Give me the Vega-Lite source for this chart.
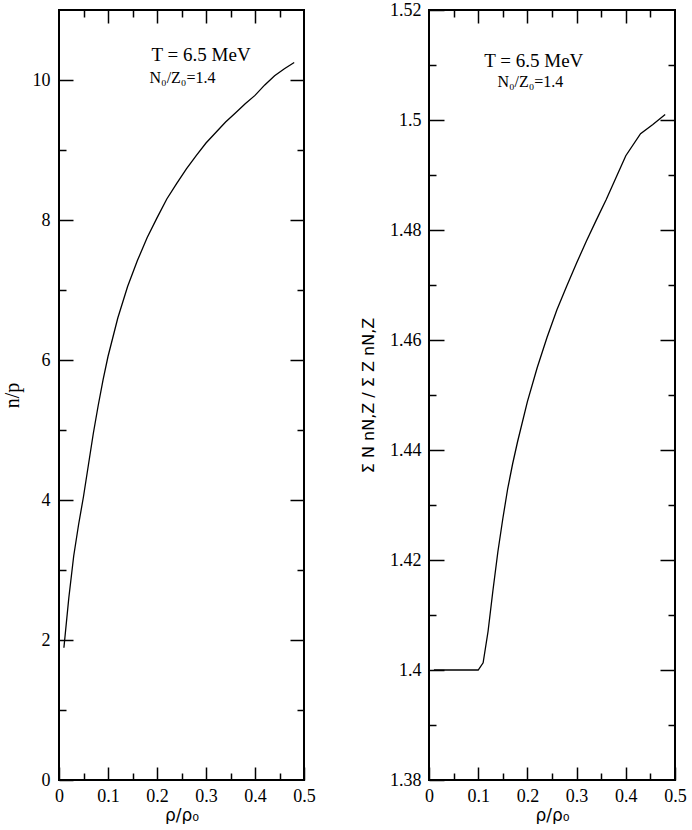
{
  "$schema": "https://vega.github.io/schema/vega-lite/v6.json",
  "padding": {"left": 1, "top": 0, "right": 0, "bottom": 0},
  "background": "white",
  "config": {
    "view": {"stroke": "black", "strokeWidth": 2},
    "axis": {
      "domain": false, "grid": false,
      "tickColor": "black", "tickWidth": 1.5,
      "labelFont": "Liberation Serif", "labelFontSize": 18, "labelColor": "black",
      "labelOverlap": false, "labelFlush": false,
      "titleColor": "black", "titleFontWeight": "normal"
    }
  },
  "datasets": {
    "left": [
      {"rho": 0.01, "v": 1.89}, {"rho": 0.02, "v": 2.6}, {"rho": 0.03, "v": 3.2},
      {"rho": 0.04, "v": 3.65}, {"rho": 0.05, "v": 4.05}, {"rho": 0.06, "v": 4.5},
      {"rho": 0.07, "v": 4.95}, {"rho": 0.08, "v": 5.35}, {"rho": 0.09, "v": 5.72},
      {"rho": 0.1, "v": 6.05}, {"rho": 0.12, "v": 6.6}, {"rho": 0.14, "v": 7.05},
      {"rho": 0.16, "v": 7.42}, {"rho": 0.18, "v": 7.75}, {"rho": 0.2, "v": 8.03},
      {"rho": 0.22, "v": 8.3}, {"rho": 0.24, "v": 8.52}, {"rho": 0.26, "v": 8.73},
      {"rho": 0.28, "v": 8.92}, {"rho": 0.3, "v": 9.1}, {"rho": 0.32, "v": 9.25},
      {"rho": 0.34, "v": 9.4}, {"rho": 0.36, "v": 9.53}, {"rho": 0.38, "v": 9.66},
      {"rho": 0.4, "v": 9.78}, {"rho": 0.42, "v": 9.93}, {"rho": 0.44, "v": 10.06},
      {"rho": 0.46, "v": 10.16}, {"rho": 0.48, "v": 10.25}
    ],
    "right": [
      {"rho": 0.01, "v": 1.4}, {"rho": 0.05, "v": 1.4}, {"rho": 0.1, "v": 1.4},
      {"rho": 0.11, "v": 1.4013}, {"rho": 0.12, "v": 1.407}, {"rho": 0.13, "v": 1.4145},
      {"rho": 0.14, "v": 1.4215}, {"rho": 0.15, "v": 1.4275}, {"rho": 0.16, "v": 1.433},
      {"rho": 0.17, "v": 1.4375}, {"rho": 0.18, "v": 1.4415}, {"rho": 0.2, "v": 1.4488},
      {"rho": 0.22, "v": 1.455}, {"rho": 0.24, "v": 1.4605}, {"rho": 0.26, "v": 1.4655},
      {"rho": 0.28, "v": 1.4698}, {"rho": 0.3, "v": 1.474}, {"rho": 0.32, "v": 1.478},
      {"rho": 0.34, "v": 1.4818}, {"rho": 0.36, "v": 1.4855}, {"rho": 0.38, "v": 1.4895},
      {"rho": 0.4, "v": 1.4935}, {"rho": 0.43, "v": 1.4975}, {"rho": 0.455, "v": 1.4992},
      {"rho": 0.48, "v": 1.501}
    ],
    "leftText": [
      {"label": "T = 6.5 MeV", "rho": 0.29, "v": 10.27, "kind": "big"},
      {"label": "N₀/Z₀=1.4", "rho": 0.252, "v": 9.96, "kind": "small"}
    ],
    "rightText": [
      {"label": "T = 6.5 MeV", "rho": 0.213, "v": 1.5096, "kind": "big"},
      {"label": "N₀/Z₀=1.4", "rho": 0.206, "v": 1.506, "kind": "small"}
    ]
  },
  "hconcat": [
    {
      "width": 245, "height": 770,
      "resolve": {"axis": {"x": "independent", "y": "independent"}},
      "layer": [
        {
          "data": {"name": "left"},
          "mark": {"type": "line", "color": "black", "strokeWidth": 1.3},
          "encoding": {
            "x": {"field": "rho", "type": "quantitative", "scale": {"domain": [0, 0.5], "nice": false},
              "axis": {"orient": "bottom", "values": [0, 0.1, 0.2, 0.3, 0.4, 0.5], "format": "~r", "tickSize": -13, "labelPadding": 20,
                "title": "ρ/ρ₀", "titleFont": "DejaVu Sans", "titleFontSize": 17, "titlePadding": 2}},
            "y": {"field": "v", "type": "quantitative", "scale": {"domain": [0, 11], "nice": false},
              "axis": {"orient": "left", "values": [0, 2, 4, 6, 8, 10], "format": "~r", "tickSize": -14, "labelPadding": 23,
                "title": "n/p", "titleFont": "Liberation Serif", "titleFontSize": 20, "titlePadding": 10}}
          }
        },
        {
          "data": {"name": "left"},
          "mark": {"type": "line", "strokeOpacity": 0},
          "encoding": {
            "x": {"field": "rho", "type": "quantitative", "scale": {"domain": [0, 0.5], "nice": false},
              "axis": {"orient": "bottom", "values": [0.05, 0.15, 0.25, 0.35, 0.45], "labels": false, "tickSize": -7, "title": null}},
            "y": {"field": "v", "type": "quantitative", "scale": {"domain": [0, 11], "nice": false},
              "axis": {"orient": "left", "values": [1, 3, 5, 7, 9], "labels": false, "tickSize": -7, "title": null}}
          }
        },
        {
          "data": {"name": "left"},
          "mark": {"type": "line", "strokeOpacity": 0},
          "encoding": {
            "x": {"field": "rho", "type": "quantitative", "scale": {"domain": [0, 0.5], "nice": false},
              "axis": {"orient": "top", "values": [0.1, 0.2, 0.3, 0.4], "labels": false, "tickSize": -13, "title": null}},
            "y": {"field": "v", "type": "quantitative", "scale": {"domain": [0, 11], "nice": false},
              "axis": {"orient": "right", "values": [2, 4, 6, 8, 10], "labels": false, "tickSize": -14, "title": null}}
          }
        },
        {
          "data": {"name": "left"},
          "mark": {"type": "line", "strokeOpacity": 0},
          "encoding": {
            "x": {"field": "rho", "type": "quantitative", "scale": {"domain": [0, 0.5], "nice": false},
              "axis": {"orient": "top", "values": [0.05, 0.15, 0.25, 0.35, 0.45], "labels": false, "tickSize": -7, "title": null}},
            "y": {"field": "v", "type": "quantitative", "scale": {"domain": [0, 11], "nice": false},
              "axis": {"orient": "right", "values": [1, 3, 5, 7, 9], "labels": false, "tickSize": -7, "title": null}}
          }
        },
        {
          "data": {"name": "leftText"},
          "transform": [{"filter": "datum.kind == 'big'"}],
          "mark": {"type": "text", "font": "Liberation Serif", "fontSize": 19, "align": "center", "baseline": "alphabetic", "color": "black"},
          "encoding": {
            "x": {"field": "rho", "type": "quantitative", "axis": null},
            "y": {"field": "v", "type": "quantitative", "axis": null},
            "text": {"field": "label"}
          }
        },
        {
          "data": {"name": "leftText"},
          "transform": [{"filter": "datum.kind == 'small'"}],
          "mark": {"type": "text", "font": "Liberation Serif", "fontSize": 16, "align": "center", "baseline": "alphabetic", "color": "black"},
          "encoding": {
            "x": {"field": "rho", "type": "quantitative", "axis": null},
            "y": {"field": "v", "type": "quantitative", "axis": null},
            "text": {"field": "label"}
          }
        }
      ]
    },
    {
      "width": 246, "height": 770,
      "resolve": {"axis": {"x": "independent", "y": "independent"}},
      "layer": [
        {
          "data": {"name": "right"},
          "mark": {"type": "line", "color": "black", "strokeWidth": 1.3},
          "encoding": {
            "x": {"field": "rho", "type": "quantitative", "scale": {"domain": [0, 0.5], "nice": false},
              "axis": {"orient": "bottom", "values": [0, 0.1, 0.2, 0.3, 0.4, 0.5], "format": "~r", "tickSize": -13, "labelPadding": 20,
                "title": "ρ/ρ₀", "titleFont": "DejaVu Sans", "titleFontSize": 17, "titlePadding": 2}},
            "y": {"field": "v", "type": "quantitative", "scale": {"domain": [1.38, 1.52], "nice": false},
              "axis": {"orient": "left", "values": [1.38, 1.4, 1.42, 1.44, 1.46, 1.48, 1.5, 1.52], "format": "~r", "tickSize": -15, "labelPadding": 23,
                "title": "Σ N nN,Z / Σ Z nN,Z", "titleFont": "DejaVu Sans", "titleFontSize": 16, "titlePadding": 13}}
          }
        },
        {
          "data": {"name": "right"},
          "mark": {"type": "line", "strokeOpacity": 0},
          "encoding": {
            "x": {"field": "rho", "type": "quantitative", "scale": {"domain": [0, 0.5], "nice": false},
              "axis": {"orient": "bottom", "values": [0.05, 0.15, 0.25, 0.35, 0.45], "labels": false, "tickSize": -7, "title": null}},
            "y": {"field": "v", "type": "quantitative", "scale": {"domain": [1.38, 1.52], "nice": false},
              "axis": {"orient": "left", "values": [1.39, 1.41, 1.43, 1.45, 1.47, 1.49, 1.51], "labels": false, "tickSize": -7, "title": null}}
          }
        },
        {
          "data": {"name": "right"},
          "mark": {"type": "line", "strokeOpacity": 0},
          "encoding": {
            "x": {"field": "rho", "type": "quantitative", "scale": {"domain": [0, 0.5], "nice": false},
              "axis": {"orient": "top", "values": [0.1, 0.2, 0.3, 0.4], "labels": false, "tickSize": -13, "title": null}},
            "y": {"field": "v", "type": "quantitative", "scale": {"domain": [1.38, 1.52], "nice": false},
              "axis": {"orient": "right", "values": [1.4, 1.42, 1.44, 1.46, 1.48, 1.5], "labels": false, "tickSize": -15, "title": null}}
          }
        },
        {
          "data": {"name": "right"},
          "mark": {"type": "line", "strokeOpacity": 0},
          "encoding": {
            "x": {"field": "rho", "type": "quantitative", "scale": {"domain": [0, 0.5], "nice": false},
              "axis": {"orient": "top", "values": [0.05, 0.15, 0.25, 0.35, 0.45], "labels": false, "tickSize": -7, "title": null}},
            "y": {"field": "v", "type": "quantitative", "scale": {"domain": [1.38, 1.52], "nice": false},
              "axis": {"orient": "right", "values": [1.39, 1.41, 1.43, 1.45, 1.47, 1.49, 1.51], "labels": false, "tickSize": -7, "title": null}}
          }
        },
        {
          "data": {"name": "rightText"},
          "transform": [{"filter": "datum.kind == 'big'"}],
          "mark": {"type": "text", "font": "Liberation Serif", "fontSize": 19, "align": "center", "baseline": "alphabetic", "color": "black"},
          "encoding": {
            "x": {"field": "rho", "type": "quantitative", "axis": null},
            "y": {"field": "v", "type": "quantitative", "axis": null},
            "text": {"field": "label"}
          }
        },
        {
          "data": {"name": "rightText"},
          "transform": [{"filter": "datum.kind == 'small'"}],
          "mark": {"type": "text", "font": "Liberation Serif", "fontSize": 16, "align": "center", "baseline": "alphabetic", "color": "black"},
          "encoding": {
            "x": {"field": "rho", "type": "quantitative", "axis": null},
            "y": {"field": "v", "type": "quantitative", "axis": null},
            "text": {"field": "label"}
          }
        }
      ]
    }
  ],
  "spacing": 125,
  "bounds": "flush"
}
